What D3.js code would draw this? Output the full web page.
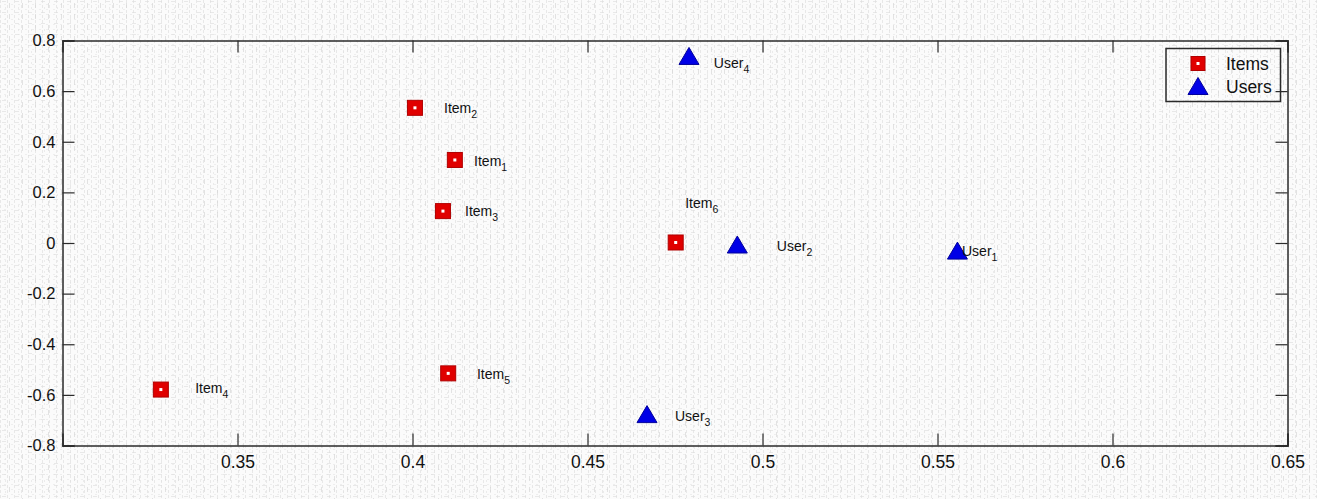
<!DOCTYPE html>
<html><head><meta charset="utf-8">
<script src="https://cdn.jsdelivr.net/npm/d3@7"></script>
<style>body{margin:0;background:#f6f6f6;overflow:hidden}</style>
</head><body>
<svg id="c" width="1317" height="499"></svg>
<script>
// ---- data ----
const itemNames = ["1","2","3","4","5","6"];
const itemX = [0.4121, 0.4007, 0.4087, 0.3281, 0.4102, 0.4752];
const itemY = [0.328, 0.534, 0.126, -0.579, -0.515, 0.002];
const itemLabelX = [0.4176, 0.4090, 0.4150, 0.3379, 0.4184, 0.4779];
const itemLabelY = [0.306, 0.512, 0.107, -0.591, -0.536, 0.138];

const userNames = ["1","2","3","4"];
const userX = [0.5557, 0.4928, 0.4670, 0.4790];
const userY = [-0.030, -0.006, -0.676, 0.739];
const userLabelX = [0.5570, 0.5041, 0.4750, 0.4861];
const userLabelY = [-0.053, -0.030, -0.702, 0.690];

const xTicks = [0.35, 0.4, 0.45, 0.5, 0.55, 0.6, 0.65];
const xTickLabels = ["0.35","0.4","0.45","0.5","0.55","0.6","0.65"];
const yTicks = [-0.8, -0.6, -0.4, -0.2, 0, 0.2, 0.4, 0.6, 0.8];
const yTickLabels = ["-0.8","-0.6","-0.4","-0.2","0","0.2","0.4","0.6","0.8"];
const legendLabels = ["Items", "Users"];

// ---- layout ----
const W = 1317, H = 499;
const L = 62.5, R = 1287.5, T = 40.5, B = 445.5;
const svg = d3.select("#c");
const font = "'Liberation Sans', Arial, sans-serif";

// background texture (light speckled paper)
const defs = svg.append("defs");
const p1 = defs.append("pattern").attr("id","p1").attr("patternUnits","userSpaceOnUse")
  .attr("width",7).attr("height",5);
p1.append("rect").attr("x",0).attr("y",0).attr("width",1).attr("height",3).attr("fill","#d9d9d9");
p1.append("rect").attr("x",4).attr("y",4).attr("width",2).attr("height",1).attr("fill","#e4e4e4");
const p2 = defs.append("pattern").attr("id","p2").attr("patternUnits","userSpaceOnUse")
  .attr("width",13).attr("height",11);
p2.append("rect").attr("x",2).attr("y",1).attr("width",4).attr("height",1).attr("fill","#dcdcdc");
p2.append("rect").attr("x",9).attr("y",3).attr("width",1).attr("height",5).attr("fill","#d2d2d2");
p2.append("rect").attr("x",5).attr("y",7).attr("width",1).attr("height",2).attr("fill","#e0e0e0");
svg.append("rect").attr("width",W).attr("height",H).attr("fill","#fbfbfb");
svg.append("rect").attr("width",W).attr("height",H).attr("fill","url(#p1)").attr("opacity",0.55);
svg.append("rect").attr("width",W).attr("height",H).attr("fill","url(#p2)").attr("opacity",0.6);

const x = d3.scaleLinear().domain([0.3, 0.65]).range([L, R]);
const y = d3.scaleLinear().domain([-0.8, 0.8]).range([B, T]);

const axColor = "#2b2b2b";
const tickLen = 12;

// axes with inward ticks on all sides
const gx = svg.append("g").attr("transform",`translate(0,${B})`)
  .call(d3.axisBottom(x).tickValues(xTicks).tickSize(-tickLen).tickPadding(8)
    .tickFormat((d,i)=>xTickLabels[i]));
const gxt = svg.append("g").attr("transform",`translate(0,${T})`)
  .call(d3.axisTop(x).tickValues(xTicks).tickSize(-tickLen).tickFormat(""));
const gy = svg.append("g").attr("transform",`translate(${L},0)`)
  .call(d3.axisLeft(y).tickValues(yTicks).tickSize(-tickLen).tickPadding(7)
    .tickFormat((d,i)=>yTickLabels[i]));
const gyr = svg.append("g").attr("transform",`translate(${R},0)`)
  .call(d3.axisRight(y).tickValues(yTicks).tickSize(-tickLen).tickFormat(""));
[gx,gxt,gy,gyr].forEach(g=>{
  g.select(".domain").attr("stroke",axColor).attr("stroke-width",1.5);
  g.selectAll(".tick line").attr("stroke",axColor).attr("stroke-width",1.2);
  g.selectAll(".tick text").attr("fill","#111").attr("font-family",font);
});
gy.selectAll(".tick text").attr("font-size",16.5);
gx.selectAll(".tick text").attr("font-size",17.5).attr("dy","0.85em");

// items
const sq = 15;
const items = svg.append("g").selectAll("g").data(itemX).join("g")
  .attr("transform",(d,i)=>`translate(${x(d)},${y(itemY[i])})`);
items.append("rect").attr("x",-sq/2).attr("y",-sq/2).attr("width",sq).attr("height",sq)
  .attr("fill","#e00000").attr("stroke","#b00000").attr("stroke-width",1);
items.append("rect").attr("x",-1.5).attr("y",-1.5).attr("width",3).attr("height",3).attr("fill","#fff");

// users
const tw = 20, th = 17;
const triPath = `M0,${-th/2}L${tw/2},${th/2}L${-tw/2},${th/2}Z`;
svg.append("g").selectAll("path").data(userX).join("path")
  .attr("transform",(d,i)=>`translate(${x(d)},${y(userY[i])})`)
  .attr("d",triPath).attr("fill","#0000e6").attr("stroke","#00009a").attr("stroke-width",1);

// labels
function label(g, base, sub, lx, ly){
  const t = g.append("text").attr("x",x(lx)).attr("y",y(ly))
    .attr("font-family",font).attr("font-size",14).attr("fill","#111");
  t.append("tspan").text(base);
  t.append("tspan").attr("font-size",10.5).attr("dy",5).text(sub);
}
const lg = svg.append("g");
itemNames.forEach((n,i)=>label(lg,"Item",n,itemLabelX[i],itemLabelY[i]));
userNames.forEach((n,i)=>label(lg,"User",n,userLabelX[i],userLabelY[i]));

// legend
const leg = svg.append("g");
leg.append("rect").attr("x",1166).attr("y",48.5).attr("width",114.5).attr("height",53)
  .attr("fill","none").attr("stroke",axColor).attr("stroke-width",1.5);
const lgItem = leg.append("g").attr("transform","translate(1198,63.5)");
lgItem.append("rect").attr("x",-7).attr("y",-7).attr("width",14).attr("height",14)
  .attr("fill","#e00000").attr("stroke","#b00000");
lgItem.append("rect").attr("x",-1.5).attr("y",-1.5).attr("width",3).attr("height",3).attr("fill","#fff");
leg.append("path").attr("transform","translate(1198,86)").attr("d",triPath)
  .attr("fill","#0000e6").attr("stroke","#00009a");
legendLabels.forEach((s,i)=>{
  leg.append("text").attr("x",1226).attr("y",70+i*22.5).attr("font-family",font)
    .attr("font-size",17.5).attr("fill","#111").text(s);
});
</script>
</body></html>
